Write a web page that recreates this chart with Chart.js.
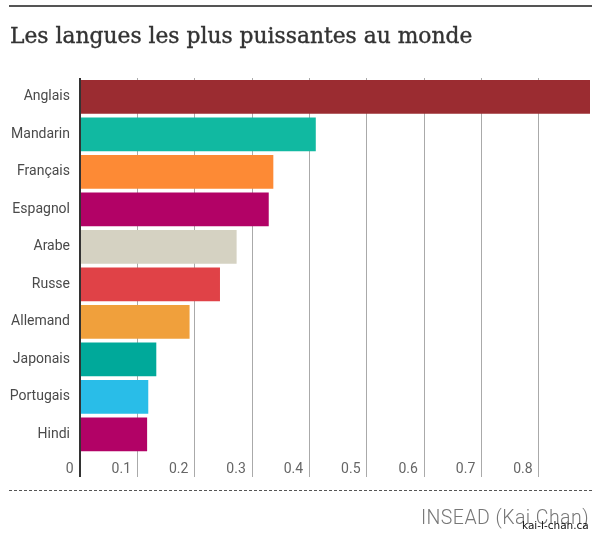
<!DOCTYPE html>
<html>
<head>
<meta charset="utf-8">
<script src="https://cdn.jsdelivr.net/npm/chart.js@4/dist/chart.umd.min.js"></script>
<style>
  html, body { margin: 0; padding: 0; background: #fff; }
  #wrap { position: relative; width: 600px; height: 541px; overflow: hidden; }
  #chart { position: absolute; left: 0; top: 0; }
  .rule { position: absolute; left: 9px; top: 5px; width: 583px; height: 2px; background: #555; }
  .title { position: absolute; left: 10px; top: 23px; font-family: "DejaVu Serif", serif; font-size: 21.8px; color: #333;
           white-space: nowrap; -webkit-text-stroke: 0.4px #333; }
  .dash { position: absolute; left: 9px; top: 490px; width: 583px; height: 1px;
          background: repeating-linear-gradient(to right, #555 0 3px, transparent 3px 5px); }
  .source { position: absolute; right: 11px; top: 506px; font-family: Roboto, sans-serif; font-weight: 300; font-size: 19.5px;
            letter-spacing: 0.45px; color: #777; }
  .mark { position: absolute; left: 522px; top: 519px; font-family: "DejaVu Sans", sans-serif; font-size: 10.5px; color: #111; }
</style>
</head>
<body>
<div id="wrap">
  <canvas id="chart" width="600" height="541"></canvas>
  <div class="rule"></div>
  <div class="title">Les langues les plus puissantes au monde</div>
  <div class="dash"></div>
  <div class="source">INSEAD (Kai Chan)</div>
  <div class="mark">kai-l-chan.ca</div>
</div>
<script>
// Power Language Index values
const languages = ['Anglais', 'Mandarin', 'Français', 'Espagnol', 'Arabe', 'Russe', 'Allemand', 'Japonais', 'Portugais', 'Hindi'];
const scores = [0.889, 0.411, 0.337, 0.329, 0.273, 0.244, 0.191, 0.133, 0.119, 0.117];
const barColors = ['#9b2c31', '#11b9a1', '#fd8a35', '#b20266', '#d5d2c2', '#e04247', '#f0a03c', '#00a99a', '#29bde8', '#b20266'];
const tickValues = [0, 0.1, 0.2, 0.3, 0.4, 0.5, 0.6, 0.7, 0.8];
const tickLabels = ['0', '0.1', '0.2', '0.3', '0.4', '0.5', '0.6', '0.7', '0.8'];
const axisMax = 0.889;

document.addEventListener('DOMContentLoaded', () => {
    const ctx = document.getElementById('chart').getContext('2d');
    new Chart(ctx, {
        type: 'bar',
        data: {
            labels: languages,
            datasets: [{
                data: scores,
                backgroundColor: barColors,
                borderWidth: 0,
                barPercentage: 0.9,
                categoryPercentage: 1
            }]
        },
        options: {
            indexAxis: 'y',
            responsive: false,
            animation: false,
            layout: { padding: { top: 78, right: 10, bottom: 64, left: 0 } },
            plugins: { legend: { display: false }, tooltip: { enabled: false } },
            scales: {
                x: {
                    min: 0,
                    max: axisMax,
                    afterBuildTicks: scale => { scale.ticks = tickValues.map(v => ({ value: v })); },
                    afterFit: scale => { scale.height = 24; },
                    border: { display: false },
                    grid: {
                        color: c => c.tick && c.tick.value === 0 ? '#333' : '#aaa',
                        lineWidth: c => c.tick && c.tick.value === 0 ? 2 : 1,
                        tickLength: 24
                    },
                    ticks: {
                        align: 'end',
                        padding: -16,
                        color: '#666',
                        font: { family: 'Roboto', size: 14 },
                        // gap between label and its grid line
                        callback: (v, i) => tickLabels[i] + ' \u2009'
                    }
                },
                y: {
                    afterFit: scale => { scale.width = 80; },
                    border: { display: false },
                    grid: { display: false, drawTicks: false },
                    ticks: {
                        padding: 10,
                        color: '#4a4a4a',
                        font: { family: 'Roboto', size: 14 }
                    }
                }
            }
        }
    });
});
</script>
</body>
</html>
